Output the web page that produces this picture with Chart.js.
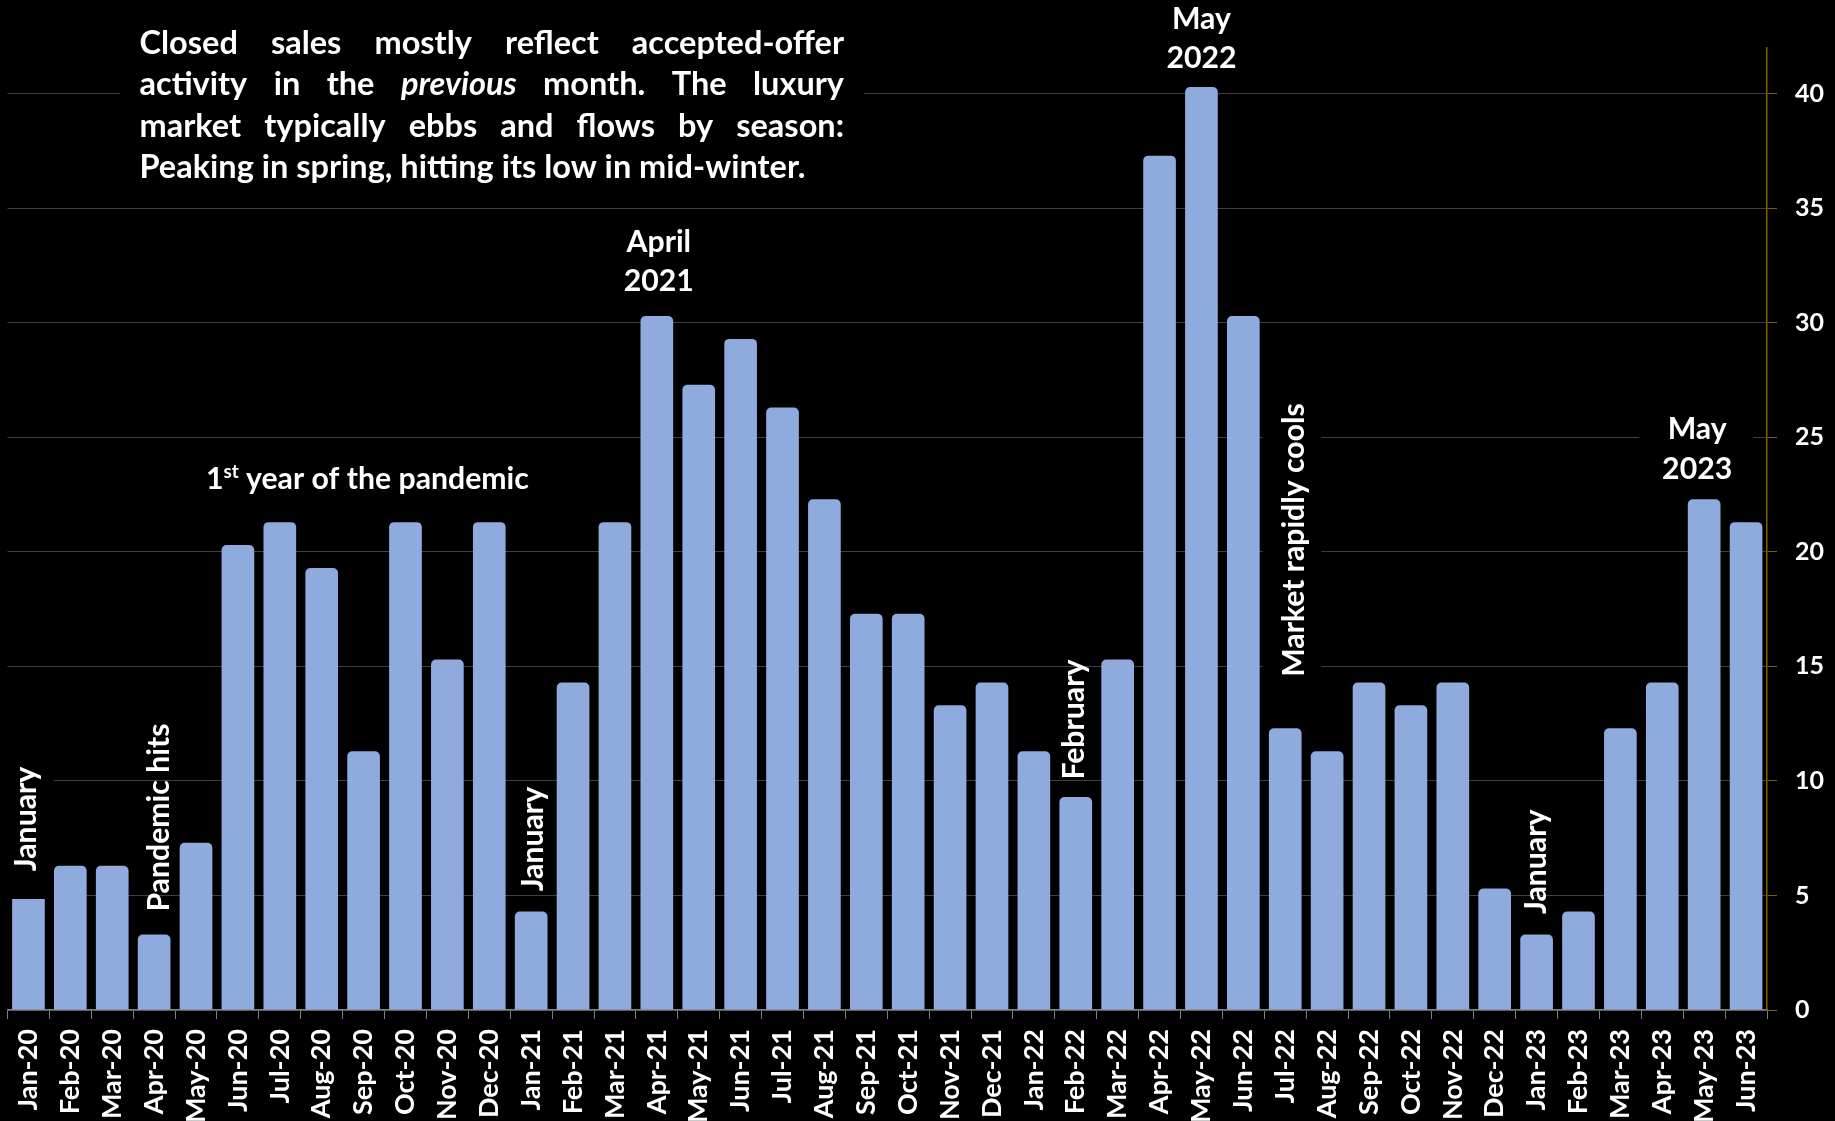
<!DOCTYPE html>
<html>
<head>
<meta charset="utf-8">
<title>Luxury closed sales by month</title>
<script src="https://cdn.jsdelivr.net/npm/chart.js@4.4.1/dist/chart.umd.min.js"></script>
<style>
  html, body { margin: 0; padding: 0; background: #000; overflow: hidden; }
  #wrap { position: relative; width: 1835px; height: 1121px; }
</style>
</head>
<body>
<div id="wrap"><canvas id="chart"></canvas></div>
<script>
// Monthly closed luxury sales, Jan 2020 – Jun 2023
const months = [
  'Jan-20','Feb-20','Mar-20','Apr-20','May-20','Jun-20','Jul-20','Aug-20','Sep-20','Oct-20','Nov-20','Dec-20',
  'Jan-21','Feb-21','Mar-21','Apr-21','May-21','Jun-21','Jul-21','Aug-21','Sep-21','Oct-21','Nov-21','Dec-21',
  'Jan-22','Feb-22','Mar-22','Apr-22','May-22','Jun-22','Jul-22','Aug-22','Sep-22','Oct-22','Nov-22','Dec-22',
  'Jan-23','Feb-23','Mar-23','Apr-23','May-23','Jun-23'
];
const closedSales = [
  5.3, 6.3, 6.3, 3.3, 7.3, 20.3, 21.3, 19.3, 11.3, 21.3, 15.3, 21.3,
  4.3, 14.3, 21.3, 30.3, 27.3, 29.3, 26.3, 22.3, 17.3, 17.3, 13.3, 14.3,
  11.3, 9.3, 15.3, 37.3, 40.3, 30.3, 12.3, 11.3, 14.3, 13.3, 14.3, 5.3,
  3.3, 4.3, 12.3, 14.3, 22.3, 21.3
];
const yTickValues = [0, 5, 10, 15, 20, 25, 30, 35, 40];
const yMax = 42;

const FONT = 'Lato, "Open Sans", "DejaVu Sans", sans-serif';
const BAR = '#8FAADC';

// Commentary block in the upper-left corner
const commentLines = [
  'Closed sales mostly reflect accepted-offer',
  'activity in the *previous* month. The luxury',
  'market typically ebbs and flows by season:',
  'Peaking in spring, hitting its low in mid-winter.'
];

// Callouts tied to a month; y is given on the value scale
const stackedNotes = [
  { lines: ['May', '2022'],   at: 'May-22', dx: 0,  y: 42.84 },
  { lines: ['April', '2021'], at: 'Apr-21', dx: 2,  y: 33.11 },
  { lines: ['May', '2023'],   at: 'May-23', dx: -7, y: 24.92,
    box: { l: -58, r: 56, t: -34, b: 53 } }
];
const verticalNotes = [
  { text: 'January',              at: 'Jan-20', dx: -3,  y: 8.34,
    box: { l: -30, r: 28.5, t: -80, b: 80 } },
  { text: 'Pandemic hits',        at: 'Apr-20', dx: 3.7, y: 8.40 },
  { text: 'January',              at: 'Jan-21', dx: 1.3, y: 7.46 },
  { text: 'February',             at: 'Feb-22', dx: -2.5, y: 12.68 },
  { text: 'Market rapidly cools', at: 'Jul-22', dx: 7.5, y: 20.52,
    box: { l: -30, r: 29, t: -145, b: 150 } },
  { text: 'January',              at: 'Jan-23', dx: -2,  y: 6.47 }
];

let textSize = 29;

function fitTextSize(ctx) {
  ctx.font = 'bold 29px ' + FONT;
  const w = ctx.measureText(commentLines[3]).width;
  textSize = 29 * 666 / w;
}

function drawComment(ctx) {
  const x0 = 139.5, x1 = 844;
  const baselines = [53.5, 95, 136.5, 178];
  ctx.fillStyle = '#000';
  ctx.fillRect(120, 10, 744, 186);
  ctx.fillStyle = '#fff';
  ctx.textAlign = 'left';
  ctx.textBaseline = 'alphabetic';
  commentLines.forEach((line, i) => {
    const words = line.split(' ').map(w => {
      const italic = w.startsWith('*');
      return { t: w.replace(/\*/g, ''), italic };
    });
    const fontFor = w => (w.italic ? 'italic bold ' : 'bold ') + textSize + 'px ' + FONT;
    let total = 0;
    words.forEach(w => { ctx.font = fontFor(w); w.w = ctx.measureText(w.t).width; total += w.w; });
    ctx.font = 'bold ' + textSize + 'px ' + FONT;
    const last = i === commentLines.length - 1;
    const gap = last ? ctx.measureText(' ').width : (x1 - x0 - total) / (words.length - 1);
    let x = x0;
    words.forEach(w => {
      ctx.font = fontFor(w);
      ctx.fillText(w.t, x, baselines[i]);
      x += w.w + gap;
    });
  });
}

const notesPlugin = {
  id: 'notes',
  beforeDraw(chart) {
    const ctx = chart.ctx;
    ctx.save();
    ctx.fillStyle = '#000';
    ctx.fillRect(0, 0, chart.width, chart.height);
    ctx.restore();
  },
  afterDatasetsDraw(chart) {
    const { ctx, scales: { x, y } } = chart;
    ctx.save();
    fitTextSize(ctx);
    const noteSize = textSize * 0.93;
    const font = 'bold ' + noteSize + 'px ' + FONT;
    ctx.font = font;
    const capH = ctx.measureText('H').actualBoundingBoxAscent;

    // upright multi-line callouts
    stackedNotes.forEach(n => {
      const cx = x.getPixelForValue(months.indexOf(n.at)) + n.dx;
      const by = y.getPixelForValue(n.y);
      if (n.box) {
        ctx.fillStyle = '#000';
        ctx.fillRect(cx + n.box.l, by + n.box.t, n.box.r - n.box.l, n.box.b - n.box.t);
      }
      ctx.fillStyle = '#fff';
      ctx.font = font;
      ctx.textAlign = 'center';
      ctx.textBaseline = 'alphabetic';
      n.lines.forEach((t, k) => ctx.fillText(t, cx, by + k * 39.5));
    });

    // "1st year of the pandemic" with a superscript
    {
      const cx = x.getPixelForValue(months.indexOf('Sep-20')) + 3.8;
      const by = y.getPixelForValue(22.73);
      const supFont = 'bold ' + (noteSize * 0.62) + 'px ' + FONT;
      ctx.font = font;
      const w1 = ctx.measureText('1').width;
      const w3 = ctx.measureText(' year of the pandemic').width;
      ctx.font = supFont;
      const w2 = ctx.measureText('st').width;
      let xx = cx - (w1 + w2 + w3) / 2;
      ctx.fillStyle = '#fff';
      ctx.textAlign = 'left';
      ctx.textBaseline = 'alphabetic';
      ctx.font = font;
      ctx.fillText('1', xx, by); xx += w1;
      ctx.font = supFont;
      ctx.fillText('st', xx, by - noteSize * 0.36); xx += w2;
      ctx.font = font;
      ctx.fillText(' year of the pandemic', xx, by);
    }

    // rotated callouts, reading bottom to top
    verticalNotes.forEach(n => {
      const cx = x.getPixelForValue(months.indexOf(n.at)) + n.dx;
      const cy = y.getPixelForValue(n.y);
      if (n.box) {
        ctx.fillStyle = '#000';
        ctx.fillRect(Math.max(0, cx + n.box.l), cy + n.box.t, n.box.r - Math.max(-cx, n.box.l), n.box.b - n.box.t);
      }
      ctx.save();
      ctx.translate(cx, cy);
      ctx.rotate(-Math.PI / 2);
      ctx.fillStyle = '#fff';
      ctx.font = font;
      ctx.textAlign = 'center';
      ctx.textBaseline = 'alphabetic';
      ctx.fillText(n.text, 0, capH / 2);
      ctx.restore();
    });

    drawComment(ctx);
    ctx.restore();
  }
};

const canvas = document.getElementById('chart');
canvas.width = 1835;
canvas.height = 1121;

new Chart(canvas, {
  type: 'bar',
  data: {
    labels: months,
    datasets: [{
      label: 'Closed sales',
      data: closedSales,
      backgroundColor: BAR,
      borderWidth: 0,
      borderRadius: { topLeft: 5, topRight: 5, bottomLeft: 0, bottomRight: 0 },
      borderSkipped: 'bottom',
      categoryPercentage: 1.0,
      barPercentage: 0.78
    }]
  },
  options: {
    responsive: false,
    animation: false,
    devicePixelRatio: 1,
    layout: { padding: { left: 7.5, top: 48, right: 0, bottom: 0 } },
    plugins: {
      legend: { display: false },
      tooltip: { enabled: false },
      title: { display: false }
    },
    scales: {
      x: {
        type: 'category',
        offset: true,
        grid: {
          offset: true,
          drawOnChartArea: false,
          drawTicks: true,
          tickLength: 9,
          color: '#7f7f7f',
          lineWidth: 1
        },
        border: { display: true, color: '#7f7f7f', width: 1.5 },
        ticks: {
          autoSkip: false,
          minRotation: 90,
          maxRotation: 90,
          padding: 10,
          color: '#fff',
          font: { family: FONT, size: 27, weight: 'bold' }
        },
        afterFit(scale) { scale.height = 111; }
      },
      y: {
        type: 'linear',
        position: 'right',
        min: 0,
        max: yMax,
        afterBuildTicks(scale) { scale.ticks = yTickValues.map(v => ({ value: v })); },
        grid: {
          color: '#404040',
          lineWidth: 1,
          drawTicks: true,
          tickLength: 10,
          tickColor: '#7f6000'
        },
        border: { display: true, color: '#7f6000', width: 1.5 },
        ticks: {
          includeBounds: false,
          padding: 18,
          color: '#fff',
          font: { family: FONT, size: 25, weight: 'bold' }
        },
        afterFit(scale) { scale.width = 68; }
      }
    }
  },
  plugins: [notesPlugin]
});
</script>
</body>
</html>
